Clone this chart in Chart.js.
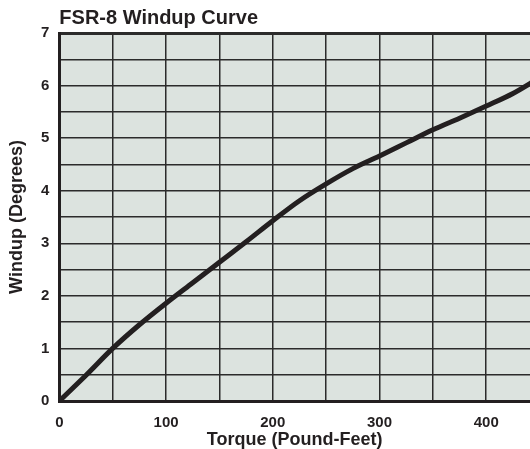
<!DOCTYPE html>
<html>
<head>
<meta charset="utf-8">
<script src="https://cdn.jsdelivr.net/npm/chart.js@4.4.1/dist/chart.umd.min.js"></script>
<style>
  html, body { margin: 0; padding: 0; background: #fff; overflow: hidden; }
  #wrap { width: 530px; height: 449px; }
</style>
</head>
<body>
<div id="wrap"><canvas id="myGraph"></canvas></div>
<script>
// torque (pound-feet) vs windup (degrees)
const torque = [0, 25, 50, 75, 100, 125, 150, 175, 200, 225, 250, 275, 300, 325, 350, 375, 400, 425, 450];
const windup = [0, 0.49, 1.0, 1.45, 1.86, 2.25, 2.64, 3.03, 3.43, 3.81, 4.13, 4.42, 4.66, 4.91, 5.16, 5.38, 5.61, 5.85, 6.15];
const xTickLabels = [0, 100, 200, 300, 400];
const yTickLabels = [0, 1, 2, 3, 4, 5, 6, 7];

const ctx = document.getElementById('myGraph');

const plotBg = {
  id: 'plotBg',
  beforeDraw(chart) {
    const a = chart.chartArea;
    const c = chart.ctx;
    c.save();
    c.fillStyle = '#dce3df';
    c.fillRect(a.left, a.top, a.right - a.left, a.bottom - a.top);
    c.restore();
  }
};

const data = {
  datasets: [{
    label: 'Windup',
    data: torque.map((t, i) => ({ x: t, y: windup[i] })),
    borderColor: '#231f20',
    borderWidth: 5,
    pointRadius: 0,
    cubicInterpolationMode: 'monotone',
    clip: 0
  }]
};

const config = {
  type: 'line',
  data: data,
  plugins: [plotBg],
  options: {
    responsive: true,
    maintainAspectRatio: false,
    animation: false,
    layout: { padding: { left: 8, right: 0, top: 8, bottom: 0 } },
    plugins: {
      legend: { display: false },
      tooltip: { enabled: false },
      title: {
        display: true,
        text: 'FSR-8 Windup Curve',
        align: 'start',
        fullSize: false,
        color: '#231f20',
        font: { family: 'Liberation Sans, Arial, sans-serif', size: 20, weight: 'bold', lineHeight: 1 },
        padding: { top: 0, bottom: 5 }
      }
    },
    scales: {
      x: {
        type: 'linear',
        min: 0,
        max: 441,
        afterBuildTicks: (scale) => {
          scale.ticks = scale.ticks.filter(t => t.value % 50 === 0);
        },
        ticks: {
          stepSize: 50,
          autoSkip: false,
          maxRotation: 0,
          padding: 14,
          color: '#231f20',
          font: { family: 'Liberation Sans, Arial, sans-serif', size: 15, weight: 'bold', lineHeight: 1 },
          callback: (v) => xTickLabels.includes(v) ? String(v) : ''
        },
        grid: { color: '#2b2b2b', lineWidth: 1.5, drawTicks: false },
        border: { color: '#231f20', width: 3 },
        title: {
          display: true,
          text: 'Torque (Pound-Feet)',
          color: '#231f20',
          font: { family: 'Liberation Sans, Arial, sans-serif', size: 18, weight: 'bold', lineHeight: 1 },
          padding: { top: -13, bottom: 0 }
        }
      },
      y: {
        min: 0,
        max: 7,
        ticks: {
          stepSize: 0.5,
          autoSkip: false,
          padding: 10,
          color: '#231f20',
          font: { family: 'Liberation Sans, Arial, sans-serif', size: 15, weight: 'bold' },
          callback: (v) => yTickLabels.includes(v) ? String(v) : ''
        },
        grid: {
          color: '#2b2b2b',
          lineWidth: (c) => (c.tick && c.tick.value === 7) ? 3 : 1.5,
          drawTicks: false
        },
        border: { color: '#231f20', width: 3 },
        title: {
          display: true,
          text: 'Windup (Degrees)',
          color: '#231f20',
          font: { family: 'Liberation Sans, Arial, sans-serif', size: 18, weight: 'bold', lineHeight: 1 },
          padding: { top: 0, bottom: 5 }
        }
      }
    }
  }
};

const myChart = new Chart(ctx, config);
</script>
</body>
</html>
